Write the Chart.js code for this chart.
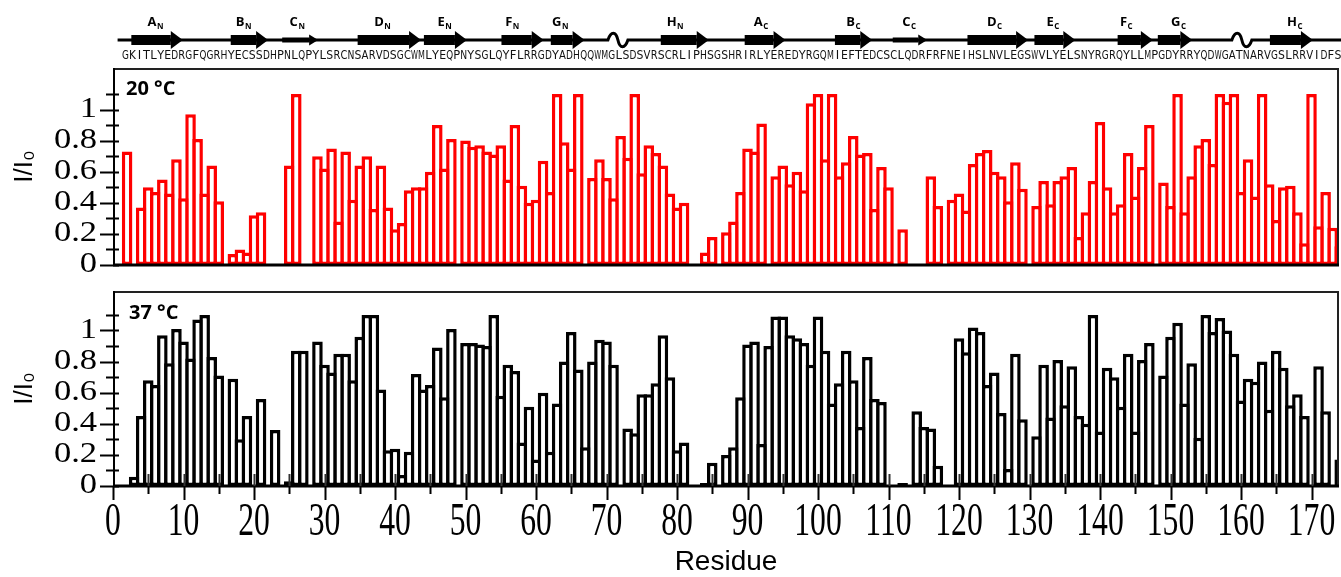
<!DOCTYPE html>
<html>
<head>
<meta charset="utf-8">
<script src="https://cdn.jsdelivr.net/npm/chart.js@4.4.1/dist/chart.umd.min.js"></script>
<style>
  html, body { margin: 0; padding: 0; background: #fff; }
  #wrap { position: relative; width: 1341px; height: 577px; overflow: hidden; }
  canvas { position: absolute; left: 0; }
  #top { top: 0; }
  #bottom { top: 280px; }
</style>
</head>
<body>
<div id="wrap">
  <canvas id="top" width="1341" height="278"></canvas>
  <canvas id="bottom" width="1341" height="297"></canvas>
</div>
<script>
// protein sequence, one letter per residue
const sequence = 'GKITLYEDRGFQGRHYECSSDHPNLQPYLSRCNSARVDSGCWMLYEQPNYSGLQYFLRRGDYADHQQWMGLSDSVRSCRLIPHSG' +
                 'SHRIRLYEREDYRGQMIEFTEDCSCLQDRFRFNEIHSLNVLEGSWVLYELSNYRGRQYLLMPGDYRRYQDWGATNARVGSLRRVIDFS';
const residues = Array.from(sequence, (_, i) => i + 1);

// I/I0 per residue, null = not observed
const ratio20 = [
  0.73, null, 0.37, 0.50, 0.47, 0.55, 0.46, 0.68, 0.43, 0.97,
  0.81, 0.46, 0.64, 0.41, null, 0.07, 0.10, 0.08, 0.32, 0.34,
  null, null, null, 0.64, 1.10, null, null, 0.70, 0.62, 0.75,
  0.28, 0.73, 0.42, 0.64, 0.70, 0.36, 0.64, 0.37, 0.23, 0.27,
  0.48, 0.50, 0.50, 0.60, 0.90, 0.62, 0.81, null, 0.80, 0.76,
  0.77, 0.73, 0.71, 0.77, 0.55, 0.90, 0.51, 0.40, 0.42, 0.67,
  0.47, 1.10, 0.79, 0.62, 1.10, null, 0.56, 0.68, 0.56, 0.43,
  0.83, 0.69, 1.10, 0.59, 0.77, 0.72, 0.64, 0.46, 0.37, 0.40,
  null, null, 0.08, 0.18, null, 0.21, 0.28, 0.47, 0.75, 0.73,
  0.91, null, 0.57, 0.64, 0.52, 0.60, 0.48, 1.04, 1.10, 0.68,
  1.10, 0.57, 0.66, 0.83, 0.71, 0.72, 0.36, 0.63, 0.50, null,
  0.23, null, null, null, 0.57, 0.38, null, 0.42, 0.46, 0.35,
  0.65, 0.72, 0.74, 0.60, 0.57, 0.41, 0.66, 0.49, null, 0.38,
  0.54, 0.39, 0.54, 0.57, 0.63, 0.18, 0.34, 0.54, 0.92, 0.50,
  0.34, 0.39, 0.72, 0.44, 0.63, 0.90, null, 0.53, 0.38, 1.10,
  0.34, 0.57, 0.77, 0.81, 0.65, 1.10, 1.05, 1.10, 0.47, 0.68,
  0.44, 1.10, 0.52, 0.29, 0.50, 0.51, 0.34, 0.14, 1.10, 0.25,
  0.47, 0.24, 0.12
];
const ratio37 = [
  null, 0.06, 0.45, 0.68, 0.65, 0.97, 0.79, 1.01, 0.93, 0.82,
  1.07, 1.10, 0.83, 0.71, null, 0.69, 0.30, 0.45, null, 0.56,
  null, 0.36, null, 0.03, 0.87, 0.87, null, 0.93, 0.78, 0.73,
  0.85, 0.85, 0.68, 0.96, 1.10, 1.10, 0.62, 0.23, 0.24, 0.07,
  0.22, 0.72, 0.62, 0.65, 0.89, 0.57, 1.01, null, 0.92, 0.92,
  0.91, 0.90, 1.10, 0.58, 0.78, 0.74, 0.28, 0.51, 0.17, 0.60,
  0.22, 0.53, 0.80, 0.99, 0.75, 0.25, 0.80, 0.94, 0.93, 0.78,
  null, 0.37, 0.34, 0.59, 0.59, 0.66, 0.97, 0.70, 0.23, 0.28,
  null, null, 0.02, 0.15, null, 0.20, 0.25, 0.57, 0.91, 0.93,
  0.27, 0.90, 1.09, 1.09, 0.97, 0.95, 0.92, 0.78, 1.09, 0.87,
  0.53, 0.66, 0.87, 0.68, 0.38, 0.83, 0.56, 0.54, null, null,
  0.02, null, 0.48, 0.38, 0.37, 0.13, null, null, 0.95, 0.86,
  1.02, 0.99, 0.65, 0.73, 0.47, 0.11, 0.85, 0.43, null, 0.32,
  0.78, 0.44, 0.81, 0.52, 0.77, 0.45, 0.40, 1.10, 0.35, 0.76,
  0.70, 0.51, 0.85, 0.35, 0.81, 0.92, null, 0.71, 0.96, 1.05,
  0.53, 0.79, 0.31, 1.10, 0.99, 1.08, 1.00, 0.85, 0.55, 0.69,
  0.67, 0.80, 0.49, 0.87, 0.76, 0.52, 0.59, 0.45, null, 0.77,
  0.48, null, 0.17
];

const xTickLabels = ['0', '10', '20', '30', '40', '50', '60', '70', '80', '90',
                     '100', '110', '120', '130', '140', '150', '160', '170'];
const yTickLabels = ['0', '0.2', '0.4', '0.6', '0.8', '1'];
const yMinorTicks = [0.1, 0.3, 0.5, 0.7, 0.9, 1.1];

// secondary structure track (residue units)
const strands = [
  { name: 'A', sub: 'N', from: 2.6, to: 9.9, label: 6.0 },
  { name: 'B', sub: 'N', from: 16.7, to: 22.0, label: 18.5 },
  { name: 'C', sub: 'N', from: 24.0, to: 29.1, label: 26.1, thin: true },
  { name: 'D', sub: 'N', from: 34.7, to: 43.7, label: 38.2 },
  { name: 'E', sub: 'N', from: 44.1, to: 50.2, label: 47.0 },
  { name: 'F', sub: 'N', from: 55.1, to: 61.1, label: 56.6 },
  { name: 'G', sub: 'N', from: 62.1, to: 66.9, label: 63.4 },
  { name: 'H', sub: 'N', from: 77.7, to: 84.5, label: 79.7 },
  { name: 'A', sub: 'C', from: 89.6, to: 95.4, label: 91.9 },
  { name: 'B', sub: 'C', from: 102.4, to: 107.7, label: 105.0 },
  { name: 'C', sub: 'C', from: 110.6, to: 115.5, label: 112.9, thin: true },
  { name: 'D', sub: 'C', from: 121.2, to: 129.8, label: 125.0 },
  { name: 'E', sub: 'C', from: 130.7, to: 136.5, label: 133.3 },
  { name: 'F', sub: 'C', from: 142.5, to: 147.5, label: 143.7 },
  { name: 'G', sub: 'C', from: 148.2, to: 153.1, label: 151.1 },
  { name: 'H', sub: 'C', from: 164.1, to: 170.2, label: 167.6 }
];
const loops = [70.2, 158.7];

// the bars in the figure sit one step right of the residue number
const barShift = 1;
const seqShift = 0.75;

// stretched serif label, as in the original figure
function stretchedText(ctx, text, x, y, size, sx, sy, align) {
  ctx.save();
  ctx.translate(x, y);
  ctx.scale(sx, sy);
  ctx.font = size + "px 'Liberation Serif', 'Times New Roman', serif";
  ctx.textAlign = align;
  ctx.textBaseline = 'middle';
  ctx.fillText(text, 0, 0);
  ctx.restore();
}

const framePlugin = {
  id: 'frame',
  afterDatasetsDraw(chart, args, opts) {
    const { ctx, chartArea: a, scales: { x, y } } = chart;
    ctx.save();
    // box top + right
    ctx.strokeStyle = '#222';
    ctx.lineWidth = 2;
    ctx.beginPath();
    ctx.moveTo(a.left, a.top + 1);
    ctx.lineTo(a.right - 1, a.top + 1);
    ctx.lineTo(a.right - 1, a.bottom);
    ctx.stroke();
    // left axis
    ctx.strokeStyle = '#000';
    ctx.beginPath();
    ctx.moveTo(a.left + 1, a.top);
    ctx.lineTo(a.left + 1, a.bottom + 1);
    ctx.stroke();
    // baseline
    ctx.lineWidth = 3;
    ctx.beginPath();
    ctx.moveTo(a.left, a.bottom);
    ctx.lineTo(a.right, a.bottom);
    ctx.stroke();
    // y ticks + labels
    ctx.lineWidth = 2;
    ctx.beginPath();
    yTickLabels.map(Number).forEach(v => {
      const py = Math.round(y.getPixelForValue(v)) + 0.5;
      ctx.moveTo(a.left - 13, py); ctx.lineTo(a.left + 6, py);
    });
    yMinorTicks.forEach(v => {
      const py = Math.round(y.getPixelForValue(v)) + 0.5;
      ctx.moveTo(a.left - 7, py); ctx.lineTo(a.left + 6, py);
    });
    ctx.stroke();
    ctx.fillStyle = '#000';
    yTickLabels.forEach(t => {
      stretchedText(ctx, t, a.left - 16, y.getPixelForValue(Number(t)), 30, 1.15, 0.95, 'right');
    });
    if (opts.xTicks) {
      const majors = xTickLabels.map(Number);
      ctx.beginPath();
      majors.forEach(v => {
        const px = Math.round(x.getPixelForValue(v)) + 0.5;
        ctx.moveTo(px, a.bottom); ctx.lineTo(px, a.bottom + 14);
      });
      majors.map(v => v + 5).filter(v => v < x.max).forEach(v => {
        const px = Math.round(x.getPixelForValue(v)) + 0.5;
        ctx.moveTo(px, a.bottom); ctx.lineTo(px, a.bottom + 8);
      });
      ctx.stroke();
      xTickLabels.forEach(t => {
        stretchedText(ctx, t, x.getPixelForValue(Number(t)), a.bottom + 37, 36, 0.88, 1.3, 'center');
      });
      ctx.strokeStyle = '#333';
      ctx.beginPath();
      majors.concat(majors.map(v => v + 5)).filter(v => v > 0 && v < x.max).forEach(v => {
        const px = Math.round(x.getPixelForValue(v)) + 0.5;
        ctx.moveTo(px, a.bottom); ctx.lineTo(px, a.bottom - 12);
      });
      ctx.stroke();
    }
    // panel label
    ctx.fillStyle = '#000';
    ctx.font = "bold 20px 'Open Sans', 'DejaVu Sans', sans-serif";
    ctx.textBaseline = 'alphabetic';
    ctx.textAlign = 'left';
    ctx.fillText(opts.label, a.left + opts.labelDx, a.top + opts.labelDy);
    ctx.restore();
  }
};

const headerPlugin = {
  id: 'header',
  afterDraw(chart) {
    const { ctx, scales: { x } } = chart;
    const px = u => x.getPixelForValue(u);
    const lineY = 40;
    ctx.save();
    ctx.fillStyle = '#000';
    ctx.strokeStyle = '#000';
    ctx.lineWidth = 3;
    ctx.lineCap = 'butt';
    // backbone line with loop squiggles
    ctx.beginPath();
    ctx.moveTo(px(0.65), lineY);
    loops.forEach(u => {
      const x0 = px(u);
      ctx.lineTo(x0, lineY);
      ctx.bezierCurveTo(x0 + 3, lineY - 9, x0 + 8, lineY - 9, x0 + 10, lineY);
      ctx.bezierCurveTo(x0 + 12, lineY + 9, x0 + 17, lineY + 9, x0 + 20, lineY);
    });
    ctx.lineTo(chart.width, lineY);
    ctx.stroke();
    // strands
    strands.forEach(s => {
      const x1 = px(s.from), x2 = px(s.to);
      const bh = s.thin ? 5 : 10, hh = s.thin ? 11 : 18, hl = s.thin ? 9 : 12;
      ctx.fillRect(x1, lineY - bh / 2, x2 - hl - x1, bh);
      ctx.beginPath();
      ctx.moveTo(x2 - hl, lineY - hh / 2);
      ctx.lineTo(x2, lineY);
      ctx.lineTo(x2 - hl, lineY + hh / 2);
      ctx.closePath();
      ctx.fill();
      // label with subscript
      const big = "bold 13px 'Open Sans', 'DejaVu Sans', sans-serif";
      const small = "bold 8px 'Open Sans', 'DejaVu Sans', sans-serif";
      ctx.font = big;
      const w1 = ctx.measureText(s.name).width;
      ctx.font = small;
      const w2 = ctx.measureText(s.sub).width;
      const lx = px(s.label) - (w1 + w2) / 2;
      ctx.textAlign = 'left';
      ctx.textBaseline = 'alphabetic';
      ctx.font = big;
      ctx.fillText(s.name, lx, 26);
      ctx.font = small;
      ctx.fillText(s.sub, lx + w1 + 0.5, 29);
    });
    // sequence
    ctx.fillStyle = '#111';
    ctx.font = "13px 'DejaVu Sans Condensed', 'DejaVu Sans', sans-serif";
    ctx.textAlign = 'center';
    ctx.textBaseline = 'middle';
    residues.forEach((r, i) => {
      ctx.fillText(sequence[i], px(r + seqShift), 56, 6.9);
    });
    ctx.restore();
  }
};

function makeChart(id, values, color, opts) {
  return new Chart(document.getElementById(id), {
    type: 'bar',
    data: {
      datasets: [{
        data: residues.map((r, i) => ({ x: r + barShift, y: values[i] })),
        backgroundColor: '#fff',
        borderColor: color,
        borderWidth: 3.5,
        borderSkipped: false,
        barPercentage: 1.5,
        categoryPercentage: 1,
        clip: 0
      }]
    },
    options: {
      responsive: false,
      animation: false,
      devicePixelRatio: 1,
      layout: { padding: opts.padding },
      plugins: {
        legend: { display: false },
        tooltip: { enabled: false },
        frame: opts.frame
      },
      scales: {
        x: {
          type: 'linear',
          offset: false,
          min: 0,
          max: 173.9,
          display: opts.showX,
          grid: { display: false, drawTicks: false, offset: false },
          border: { display: false },
          ticks: { display: false, stepSize: 10 },
          title: {
            display: true,
            text: 'Residue',
            color: '#000',
            font: { family: "'Liberation Sans', Arial, sans-serif", size: 28 },
            padding: { top: 0, bottom: -2 }
          },
          afterFit: s => { if (opts.showX) s.height = 91; }
        },
        y: {
          min: 0,
          max: opts.yMax,
          grid: { display: false, drawTicks: false },
          border: { display: false },
          ticks: { display: false, stepSize: 0.1 },
          title: {
            display: true,
            text: 'I/I\u2080',
            color: '#000',
            font: { family: "'Liberation Sans', Arial, sans-serif", size: 26 },
            padding: { top: 9, bottom: 0 }
          },
          afterFit: s => { s.width = 113; }
        }
      }
    },
    plugins: opts.header ? [framePlugin, headerPlugin] : [framePlugin]
  });
}

makeChart('top', ratio20, '#ff0000', {
  padding: { top: 68, bottom: 13, left: 0, right: 2 },
  showX: false,
  yMax: 197 / 155.5,
  header: true,
  frame: { label: '20 \u00B0C', labelDx: 13, labelDy: 27, xTicks: false }
});

makeChart('bottom', ratio37, '#000000', {
  padding: { top: 11, bottom: 0, left: 0, right: 2 },
  showX: true,
  yMax: 195 / 155.5,
  header: false,
  frame: { label: '37 \u00B0C', labelDx: 16, labelDy: 28, xTicks: true }
});
</script>
</body>
</html>
